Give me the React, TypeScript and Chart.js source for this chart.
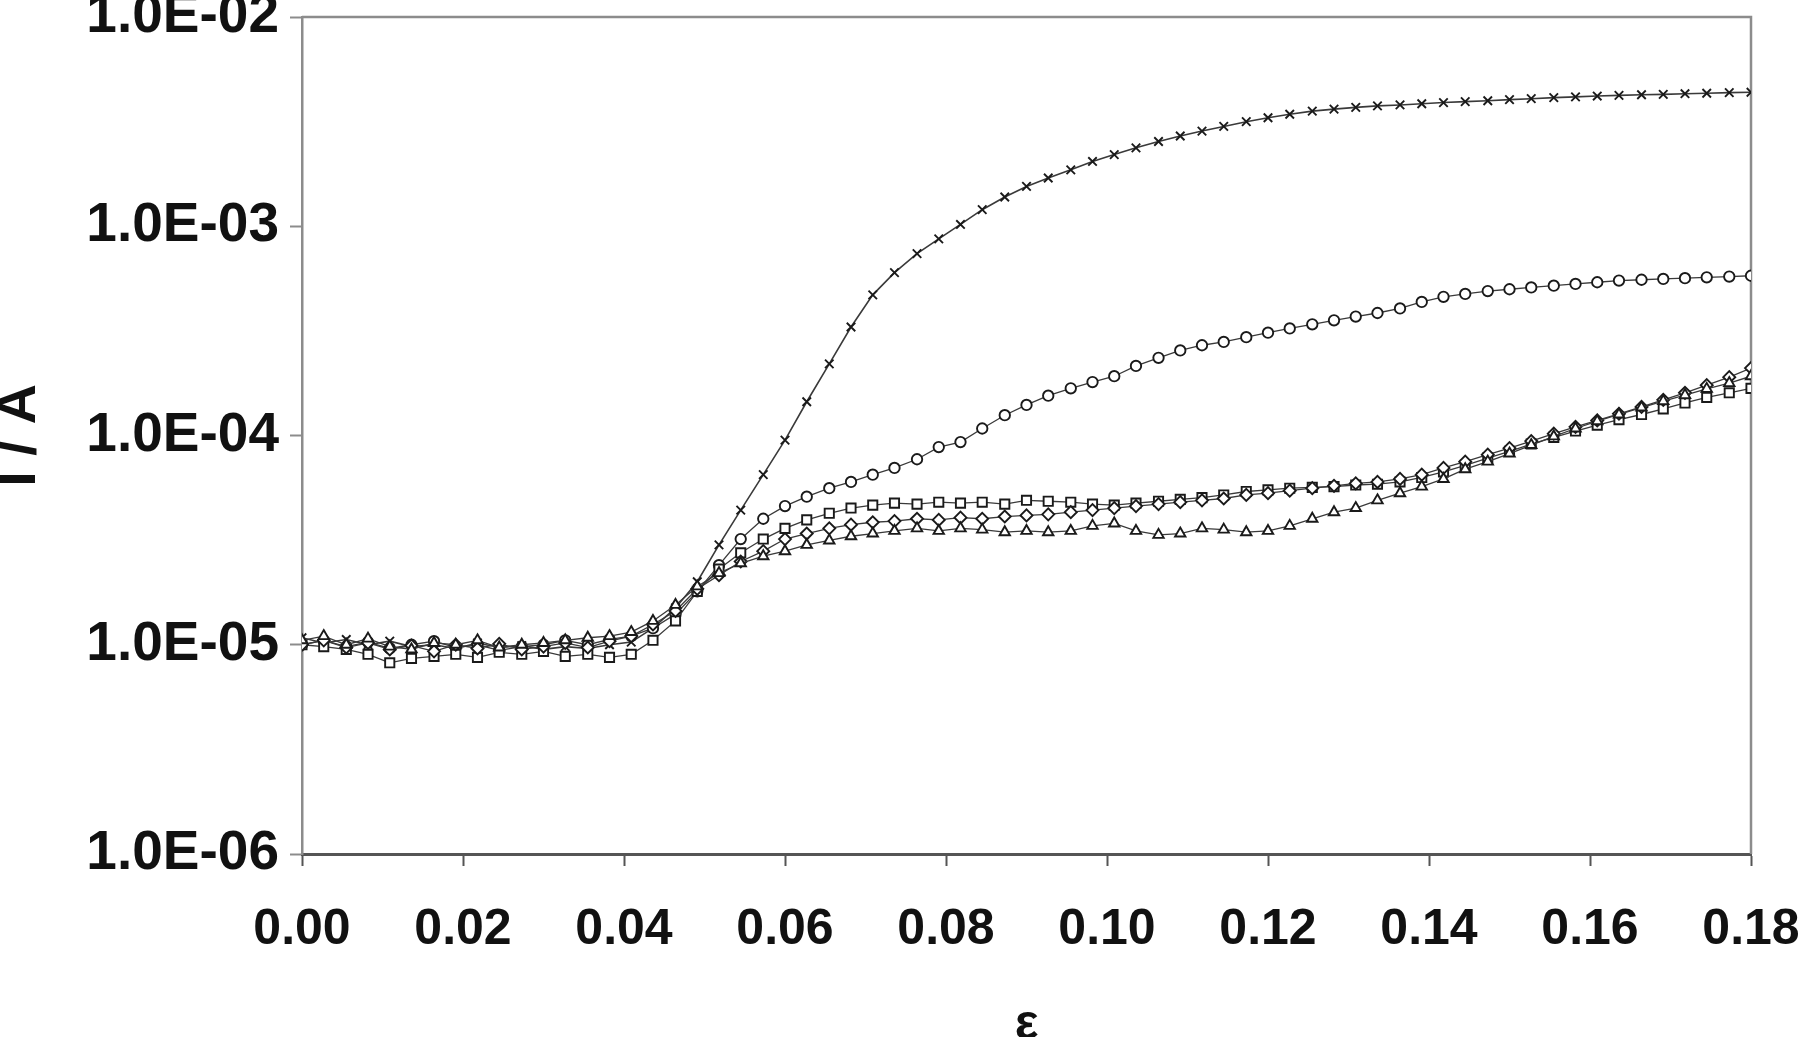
import React, { useEffect, useRef } from "react";
import { Chart, registerables } from "chart.js";

Chart.register(...registerables);

// strain ε (x)
const strain = [
  0, 0.0027, 0.0055, 0.0082, 0.0109, 0.0136, 0.0164, 0.0191, 0.0218, 0.0245,
  0.0273, 0.03, 0.0327, 0.0355, 0.0382, 0.0409, 0.0436, 0.0464, 0.0491, 0.0518,
  0.0545, 0.0573, 0.06, 0.0627, 0.0655, 0.0682, 0.0709, 0.0736, 0.0764, 0.0791,
  0.0818, 0.0845, 0.0873, 0.09, 0.0927, 0.0955, 0.0982, 0.1009, 0.1036, 0.1064,
  0.1091, 0.1118, 0.1145, 0.1173, 0.12, 0.1227, 0.1255, 0.1282, 0.1309, 0.1336,
  0.1364, 0.1391, 0.1418, 0.1445, 0.1473, 0.15, 0.1527, 0.1555, 0.1582, 0.1609,
  0.1636, 0.1664, 0.1691, 0.1718, 0.1745, 0.1773, 0.18,
];

// current I / A for each specimen
const currentCross = [
  1.08e-5, 1.02e-5, 1.06e-5, 1.0e-5, 1.04e-5, 0.98e-5, 1.0e-5, 0.96e-5, 1.02e-5, 0.97e-5,
  0.99e-5, 0.95e-5, 0.98e-5, 0.96e-5, 1.0e-5, 1.03e-5, 1.2e-5,
  1.5e-5, 2.0e-5, 3.0e-5, 4.4e-5, 6.5e-5, 9.5e-5, 1.45e-4, 2.2e-4, 3.3e-4, 4.7e-4,
  6.0e-4, 7.4e-4, 8.7e-4, 1.02e-3, 1.2e-3, 1.38e-3, 1.55e-3, 1.7e-3, 1.86e-3, 2.04e-3,
  2.2e-3, 2.37e-3, 2.54e-3, 2.7e-3, 2.85e-3, 3.0e-3, 3.16e-3, 3.3e-3, 3.43e-3, 3.55e-3,
  3.63e-3, 3.7e-3, 3.76e-3, 3.8e-3, 3.85e-3, 3.9e-3, 3.94e-3, 3.98e-3, 4.03e-3, 4.07e-3,
  4.12e-3, 4.15e-3, 4.19e-3, 4.22e-3, 4.25e-3, 4.27e-3, 4.3e-3, 4.32e-3, 4.35e-3, 4.37e-3,
];

const currentCircle = [
  1.0e-5, 1.05e-5, 0.98e-5, 1.03e-5, 0.96e-5, 1.0e-5, 1.04e-5, 0.97e-5, 1.0e-5, 0.94e-5,
  0.98e-5, 1.0e-5, 1.05e-5, 1.0e-5, 1.06e-5, 1.1e-5, 1.2e-5,
  1.4e-5, 1.8e-5, 2.4e-5, 3.2e-5, 4.0e-5, 4.6e-5, 5.1e-5, 5.6e-5, 6.0e-5, 6.5e-5,
  7.0e-5, 7.7e-5, 8.8e-5, 9.3e-5, 1.08e-4, 1.25e-4, 1.4e-4, 1.55e-4, 1.68e-4, 1.8e-4,
  1.92e-4, 2.15e-4, 2.35e-4, 2.55e-4, 2.7e-4, 2.8e-4, 2.95e-4, 3.1e-4, 3.25e-4, 3.4e-4,
  3.55e-4, 3.7e-4, 3.85e-4, 4.05e-4, 4.35e-4, 4.6e-4, 4.75e-4, 4.9e-4, 5.0e-4, 5.1e-4,
  5.2e-4, 5.3e-4, 5.4e-4, 5.5e-4, 5.55e-4, 5.6e-4, 5.65e-4, 5.7e-4, 5.75e-4, 5.8e-4,
];

const currentSquare = [
  1.0e-5, 0.98e-5, 0.95e-5, 0.9e-5, 0.82e-5, 0.86e-5, 0.88e-5, 0.9e-5, 0.87e-5, 0.92e-5,
  0.9e-5, 0.93e-5, 0.88e-5, 0.9e-5, 0.87e-5, 0.9e-5, 1.05e-5,
  1.3e-5, 1.8e-5, 2.3e-5, 2.75e-5, 3.2e-5, 3.6e-5, 3.95e-5, 4.25e-5, 4.5e-5, 4.65e-5,
  4.75e-5, 4.7e-5, 4.8e-5, 4.75e-5, 4.8e-5, 4.7e-5, 4.9e-5, 4.85e-5, 4.8e-5, 4.7e-5,
  4.65e-5, 4.75e-5, 4.85e-5, 4.95e-5, 5.05e-5, 5.2e-5, 5.4e-5, 5.5e-5, 5.6e-5, 5.65e-5,
  5.7e-5, 5.8e-5, 5.85e-5, 6.0e-5, 6.3e-5, 6.7e-5, 7.2e-5, 7.8e-5, 8.4e-5, 9.1e-5,
  9.8e-5, 1.05e-4, 1.12e-4, 1.19e-4, 1.26e-4, 1.34e-4, 1.43e-4, 1.52e-4, 1.6e-4, 1.68e-4,
];

const currentDiamond = [
  1.0e-5, 1.05e-5, 0.97e-5, 1.02e-5, 0.95e-5, 0.99e-5, 0.93e-5, 1.0e-5, 0.96e-5, 1.01e-5,
  0.95e-5, 0.98e-5, 1.02e-5, 0.97e-5, 1.04e-5, 1.1e-5, 1.25e-5,
  1.45e-5, 1.85e-5, 2.15e-5, 2.5e-5, 2.8e-5, 3.2e-5, 3.4e-5, 3.6e-5, 3.75e-5, 3.85e-5,
  3.9e-5, 4.0e-5, 3.95e-5, 4.05e-5, 4.0e-5, 4.1e-5, 4.15e-5, 4.2e-5, 4.3e-5, 4.4e-5,
  4.5e-5, 4.6e-5, 4.7e-5, 4.8e-5, 4.9e-5, 5.0e-5, 5.2e-5, 5.3e-5, 5.45e-5, 5.6e-5,
  5.75e-5, 5.9e-5, 6.0e-5, 6.2e-5, 6.5e-5, 7.0e-5, 7.5e-5, 8.1e-5, 8.7e-5, 9.4e-5,
  1.02e-4, 1.1e-4, 1.18e-4, 1.27e-4, 1.37e-4, 1.48e-4, 1.6e-4, 1.74e-4, 1.9e-4, 2.1e-4,
];

const currentTriangle = [
  1.05e-5, 1.1e-5, 1.0e-5, 1.07e-5, 0.98e-5, 0.95e-5, 1.02e-5, 1.0e-5, 1.05e-5, 0.97e-5,
  1.0e-5, 1.02e-5, 1.05e-5, 1.08e-5, 1.1e-5, 1.15e-5, 1.3e-5,
  1.55e-5, 1.9e-5, 2.2e-5, 2.45e-5, 2.65e-5, 2.8e-5, 3.0e-5, 3.15e-5, 3.3e-5, 3.4e-5,
  3.5e-5, 3.6e-5, 3.5e-5, 3.6e-5, 3.55e-5, 3.45e-5, 3.5e-5, 3.45e-5, 3.5e-5, 3.7e-5,
  3.8e-5, 3.5e-5, 3.35e-5, 3.4e-5, 3.6e-5, 3.55e-5, 3.45e-5, 3.5e-5, 3.7e-5, 4.0e-5,
  4.3e-5, 4.5e-5, 4.9e-5, 5.3e-5, 5.7e-5, 6.2e-5, 6.9e-5, 7.5e-5, 8.2e-5, 9.0e-5,
  9.9e-5, 1.08e-4, 1.17e-4, 1.26e-4, 1.36e-4, 1.46e-4, 1.56e-4, 1.67e-4, 1.78e-4, 1.92e-4,
];

const yTickValues = [1e-6, 1e-5, 1e-4, 1e-3, 1e-2];
const yTickLabels = ["1.0E-06", "1.0E-05", "1.0E-04", "1.0E-03", "1.0E-02"];
const xTickValues = [0, 0.02, 0.04, 0.06, 0.08, 0.1, 0.12, 0.14, 0.16, 0.18];
const xTickLabels = ["0.00", "0.02", "0.04", "0.06", "0.08", "0.10", "0.12", "0.14", "0.16", "0.18"];

const xTitle = "ε";
const yTitle = "I / A";

const CANVAS_LEFT = -14;
const CANVAS_W = 1814;
const CANVAS_H = 1080;
const FONT = "'Liberation Sans', Arial, sans-serif";

const framePlugin = {
  id: "frame",
  beforeDatasetsDraw(chart: any) {
    const { ctx, chartArea } = chart;
    ctx.save();
    ctx.strokeStyle = "#8c8c8c";
    ctx.lineWidth = 2.5;
    ctx.beginPath();
    ctx.moveTo(chartArea.left, chartArea.top);
    ctx.lineTo(chartArea.right, chartArea.top);
    ctx.lineTo(chartArea.right, chartArea.bottom);
    ctx.stroke();
    ctx.restore();
  },
};

function makePoints(values: number[]) {
  return values.map((v, i) => ({ x: strain[i], y: v }));
}

export default function App() {
  const canvasRef = useRef<HTMLCanvasElement | null>(null);

  useEffect(() => {
    if (!canvasRef.current) return;
    const lineColor = "#3a3a3a";
    const markColor = "#1a1a1a";
    const base = {
      showLine: true,
      borderColor: lineColor,
      borderWidth: 1.3,
      pointBorderColor: markColor,
      pointBackgroundColor: "#ffffff",
      pointBorderWidth: 1.9,
      tension: 0,
    };
    const chart = new Chart(canvasRef.current, {
      type: "scatter",
      data: {
        datasets: [
          { ...base, label: "triangle", data: makePoints(currentTriangle), pointStyle: "triangle", pointRadius: 6 },
          { ...base, label: "diamond", data: makePoints(currentDiamond), pointStyle: "rectRot", pointRadius: 6 },
          { ...base, label: "square", data: makePoints(currentSquare), pointStyle: "rect", pointRadius: 6.5 },
          { ...base, label: "circle", data: makePoints(currentCircle), pointStyle: "circle", pointRadius: 5.2 },
          { ...base, label: "cross", data: makePoints(currentCross), pointStyle: "crossRot", pointRadius: 6, borderWidth: 1.6 },
        ],
      },
      options: {
        animation: false,
        responsive: false,
        events: [],
        layout: { padding: { left: 0, top: 17, right: 49, bottom: 0 } },
        plugins: { legend: { display: false }, tooltip: { enabled: false } },
        scales: {
          x: {
            type: "linear",
            min: 0,
            max: 0.18,
            afterBuildTicks: (scale: any) => {
              scale.ticks = xTickValues.map((v) => ({ value: v }));
            },
            afterFit: (scale: any) => {
              scale.height = 226;
              scale.paddingLeft = 0;
              scale.paddingRight = 0;
            },
            grid: {
              drawOnChartArea: false,
              drawTicks: true,
              tickLength: 12,
              tickWidth: 2,
              tickColor: "#555555",
            },
            border: { display: true, color: "#555555", width: 3 },
            ticks: {
              maxRotation: 0,
              autoSkip: false,
              padding: 34,
              color: "#111111",
              font: { family: FONT, size: 50, weight: "bold" },
              callback: (v: any) => {
                const i = xTickValues.findIndex((t) => Math.abs(t - Number(v)) < 1e-9);
                return i >= 0 ? xTickLabels[i] : "";
              },
            },
            title: {
              display: true,
              text: xTitle,
              color: "#111111",
              font: { family: FONT, size: 50, weight: "bold" },
              padding: { top: 0, bottom: 25 },
            },
          },
          y: {
            type: "logarithmic",
            min: 1e-6,
            max: 1e-2,
            afterBuildTicks: (scale: any) => {
              scale.ticks = yTickValues.map((v) => ({ value: v }));
            },
            afterFit: (scale: any) => {
              scale.width = 302 - CANVAS_LEFT;
              scale.paddingTop = 0;
              scale.paddingBottom = 0;
            },
            grid: {
              drawOnChartArea: false,
              drawTicks: true,
              tickLength: 12,
              tickWidth: 2,
              tickColor: "#8c8c8c",
            },
            border: { display: true, color: "#8c8c8c", width: 2.5 },
            ticks: {
              autoSkip: false,
              padding: 11,
              color: "#111111",
              font: { family: FONT, size: 55, weight: "bold" },
              callback: (v: any) => {
                const i = yTickValues.findIndex((t) => Math.abs(Math.log10(t) - Math.log10(Number(v))) < 1e-6);
                return i >= 0 ? yTickLabels[i] : "";
              },
            },
            title: {
              display: true,
              text: yTitle,
              color: "#111111",
              font: { family: FONT, size: 56, weight: "bold" },
              padding: { top: 0, bottom: 0 },
            },
          },
        },
      },
      plugins: [framePlugin],
    } as any);
    return () => chart.destroy();
  }, []);

  return (
    <div style={{ position: "fixed", left: 0, top: 0, width: 1800, height: 1037, overflow: "hidden", background: "#ffffff" }}>
      <div style={{ position: "absolute", left: CANVAS_LEFT, top: 0, width: CANVAS_W, height: CANVAS_H }}>
        <canvas ref={canvasRef} width={CANVAS_W} height={CANVAS_H} style={{ width: CANVAS_W, height: CANVAS_H, display: "block" }} />
      </div>
    </div>
  );
}
